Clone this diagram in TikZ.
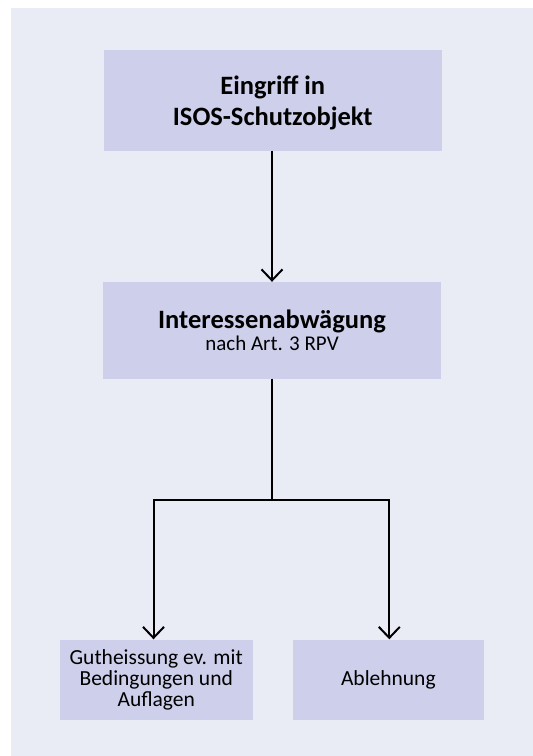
\documentclass[tikz,border=0pt]{standalone}
\usepackage{fontspec}
\setmainfont{Carlito}
\usetikzlibrary{arrows.meta,calc}
\definecolor{panelbg}{RGB}{233,236,245}
\definecolor{boxfill}{RGB}{206,208,235}
\tikzset{
  box/.style={fill=boxfill, draw=none, inner sep=0pt, align=center, text=black},
  txt/.style={inner sep=0pt, align=center, text=black},
  conn/.style={line width=2pt, draw=black},
  arr/.style={conn, -{Straight Barb[length=11pt,width=21pt,line width=2pt]}},
}
\begin{document}
\begin{tikzpicture}[x=1pt,y=-1pt]
\useasboundingbox (0,0) rectangle (533,756);
\fill[panelbg] (11,8) rectangle (533,756);
\node[box, minimum width=338.5pt, minimum height=101pt] (b1) at (272.75,100) {};
\node[txt, font=\fontsize{26.5}{31}\selectfont\bfseries] (t1) at ($(b1.center)+(0,3)$)
      {Eingriff in\\ISOS-Schutzobjekt};
\node[box, minimum width=338pt, minimum height=96.5pt,
      font=\fontsize{21}{20}\selectfont] (b2) at (272,330.25)
      {{\fontsize{26.5}{20}\selectfont\bfseries Interessenabwägung}\\[1.5pt]nach Art. 3 RPV};
\node[box, minimum width=193.5pt, minimum height=80.5pt,
      font=\fontsize{21.5}{21}\selectfont] (b3) at (156.25,679.75)
      {Gutheissung ev. mit\\Bedingungen und\\Auflagen};
\node[box, minimum width=190.7pt, minimum height=80.5pt,
      font=\fontsize{21.5}{21}\selectfont] (b4) at (388.35,679.75)
      {Ablehnung};
\coordinate (j) at (272,500);
\coordinate (jl) at (153.5,500);
\coordinate (jr) at (389.3,500);
\draw[arr] (b1.south -| j) -- (b2.north -| j);
\draw[conn] (b2.south -| j) -- (j);
\draw[arr] (j) -- (jl) -- (jl |- b3.north);
\draw[arr] (j) -- (jr) -- (jr |- b4.north);
\end{tikzpicture}
\end{document}
